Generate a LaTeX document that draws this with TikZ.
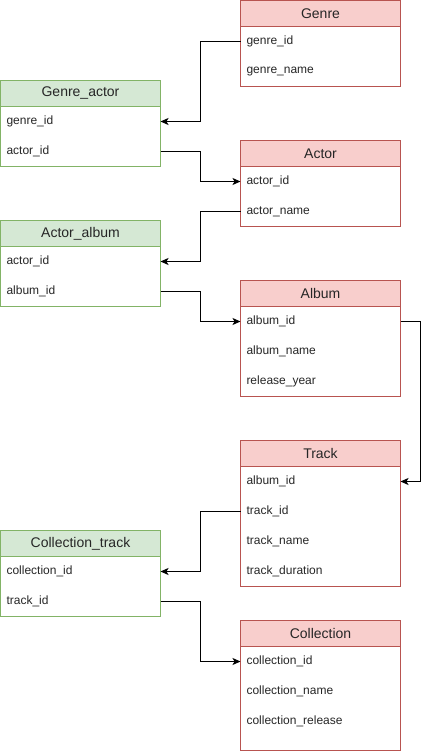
\documentclass[tikz,border=0pt]{standalone}
\usepackage{fontspec}
\setmainfont{Liberation Sans}
\usetikzlibrary{positioning, fit, arrows.meta}
\definecolor{myred}{HTML}{B85450}
\definecolor{myredfill}{HTML}{F8CECC}
\definecolor{mygreen}{HTML}{82B366}
\definecolor{mygreenfill}{HTML}{D5E8D4}
\colorlet{mytext}{black!85}

\begin{document}
\begin{tikzpicture}[x=1pt, y=-1pt,
    hdr/.style = {minimum width=160pt, minimum height=26pt, inner sep=0pt,
      outer sep=0pt, anchor=north west, text=mytext,
      font=\fontsize{14}{16}\selectfont},
    redhead/.style = {hdr, draw=myred, fill=myredfill},
    greenhead/.style = {hdr, draw=mygreen, fill=mygreenfill},
    field/.style = {minimum height=30pt, text width=148pt, inner xsep=6pt,
      inner ysep=0pt, outer sep=0pt, align=left, text=mytext,
      font=\fontsize{12}{14}\selectfont},
    redbox/.style = {draw=myred, inner sep=0pt, outer sep=0pt},
    greenbox/.style = {draw=mygreen, inner sep=0pt, outer sep=0pt},
    link/.style = {line width=1pt, -{Stealth[length=8pt, width=7pt, inset=2pt]}},
  ]
\useasboundingbox (0,0) rectangle (429,754);

% Genre
\node[redhead] (genre) at (240.5,0.5) {Genre};
\node[field, below=0pt of genre] (genre1) {genre\_id};
\node[field, below=0pt of genre1] (genre2) {genre\_name};
\node[redbox, fit=(genre)(genre2)] {};

% Genre_actor
\node[greenhead] (gact) at (0.5,80.5) {Genre\_actor};
\node[field, below=0pt of gact] (gact1) {genre\_id};
\node[field, below=0pt of gact1] (gact2) {actor\_id};
\node[greenbox, fit=(gact)(gact2)] {};

% Actor
\node[redhead] (actor) at (240.5,140.5) {Actor};
\node[field, below=0pt of actor] (actor1) {actor\_id};
\node[field, below=0pt of actor1] (actor2) {actor\_name};
\node[redbox, fit=(actor)(actor2)] {};

% Actor_album
\node[greenhead] (aalb) at (0.5,220.5) {Actor\_album};
\node[field, below=0pt of aalb] (aalb1) {actor\_id};
\node[field, below=0pt of aalb1] (aalb2) {album\_id};
\node[greenbox, fit=(aalb)(aalb2)] {};

% Album
\node[redhead] (album) at (240.5,280.5) {Album};
\node[field, below=0pt of album] (album1) {album\_id};
\node[field, below=0pt of album1] (album2) {album\_name};
\node[field, below=0pt of album2] (album3) {release\_year};
\node[redbox, fit=(album)(album3)] {};

% Track
\node[redhead] (track) at (240.5,440.5) {Track};
\node[field, below=0pt of track] (track1) {album\_id};
\node[field, below=0pt of track1] (track2) {track\_id};
\node[field, below=0pt of track2] (track3) {track\_name};
\node[field, below=0pt of track3] (track4) {track\_duration};
\node[redbox, fit=(track)(track4)] {};

% Collection_track
\node[greenhead] (ctrk) at (0.5,530.5) {Collection\_track};
\node[field, below=0pt of ctrk] (ctrk1) {collection\_id};
\node[field, below=0pt of ctrk1] (ctrk2) {track\_id};
\node[greenbox, fit=(ctrk)(ctrk2)] {};

% Collection
\node[redhead] (coll) at (240.5,620.5) {Collection};
\node[field, below=0pt of coll] (coll1) {collection\_id};
\node[field, below=0pt of coll1] (coll2) {collection\_name};
\node[field, below=0pt of coll2] (coll3) {collection\_release};
\coordinate (collend) at (400.5,750.5);
\node[redbox, fit={(coll)(coll3)(collend)}] {};

% links
\draw[link] (genre1.west) -- ++(-40,0) |- (gact1.east);
\draw[link] (gact2.east) -- ++(40,0) |- (actor1.west);
\draw[link] (actor2.west) -- ++(-40,0) |- (aalb1.east);
\draw[link] (aalb2.east) -- ++(40,0) |- (album1.west);
\draw[link] (album1.east) -- ++(20,0) |- (track1.east);
\draw[link] (track2.west) -- ++(-40,0) |- (ctrk1.east);
\draw[link] (ctrk2.east) -- ++(40,0) |- (coll1.west);
\end{tikzpicture}
\end{document}
